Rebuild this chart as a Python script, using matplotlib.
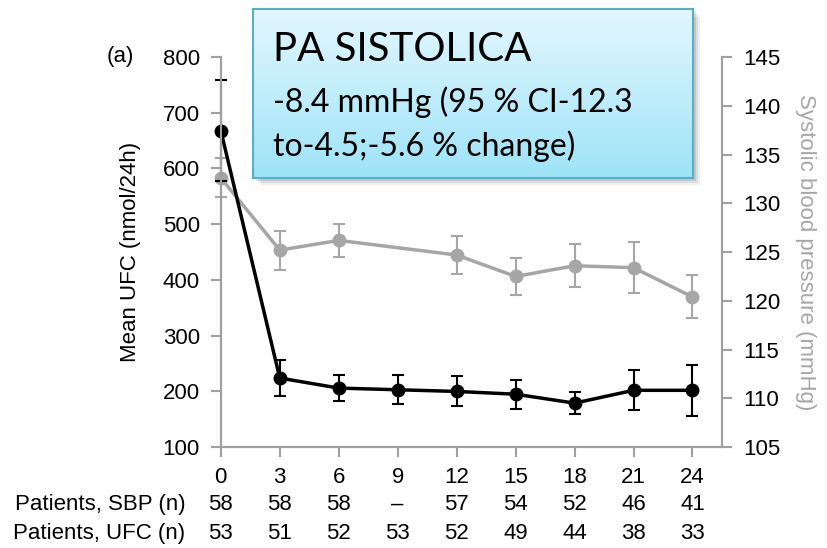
import numpy as np
import matplotlib.pyplot as plt
from matplotlib.patches import Rectangle

plt.rcParams['font.family'] = ['Liberation Sans', 'DejaVu Sans']

# follow-up months
months = [0, 3, 6, 9, 12, 15, 18, 21, 24]

# mean UFC (nmol/24h) and error
ufc = [668, 224, 206, 203, 200, 195, 179, 202, 202]
ufc_err = [90, 33, 24, 26, 27, 26, 20, 36, 46]

# systolic blood pressure (mmHg), no reading at month 9
sbp = [132.6, 125.2, 126.2, None, 124.7, 122.5, 123.6, 123.4, 120.4]
sbp_err = [2.0, 2.0, 1.7, None, 1.9, 1.9, 2.2, 2.6, 2.2]

n_sbp = ['58', '58', '58', '–', '57', '54', '52', '46', '41']
n_ufc = ['53', '51', '52', '53', '52', '49', '44', '38', '33']

grey = '#a6a6a6'
axis_grey = '#a0a0a0'
fs = 16

fig = plt.figure(figsize=(8.27, 5.48), dpi=100)
ax = fig.add_axes([0.267, 0.184, 0.606, 0.712])
ax2 = ax.twinx()

# SBP on the right axis (drawn underneath)
sx = [m for m, v in zip(months, sbp) if v is not None]
sy = [v for v in sbp if v is not None]
se = [e for e in sbp_err if e is not None]
eb = ax2.errorbar(sx, sy, yerr=se, color=grey, ecolor=grey, lw=2.5, elinewidth=1.5,
                  capsize=4.5, capthick=1.5, marker='o', ms=9, zorder=2)
ax2.set_ylim(105, 145)
ax2.set_yticks(np.arange(105, 146, 5))
ax2.set_ylabel('Systolic blood pressure (mmHg)', color=grey, fontsize=fs,
               rotation=270, labelpad=26)

# UFC on the left axis, drawn on top
ax.set_zorder(ax2.get_zorder() + 1)
ax.patch.set_visible(False)
eb2 = ax.errorbar(months, ufc, yerr=ufc_err, color='black', ecolor='black', lw=2.5,
                  elinewidth=1.5, capsize=4.5, capthick=1.5, marker='o', ms=9)
for container in (eb, eb2):
    for art in container.lines[:1] + tuple(container.lines[1]) + tuple(container.lines[2]):
        art.set_clip_on(False)
ax.set_ylim(100, 800)
ax.set_yticks(np.arange(100, 801, 100))
ax.set_xlim(0, 25.5)
ax.set_xticks(months)
ax.set_ylabel('Mean UFC (nmol/24h)', fontsize=fs, labelpad=16)

for a in (ax, ax2):
    a.spines['top'].set_visible(False)
    for side in ('left', 'right', 'bottom'):
        a.spines[side].set_color(axis_grey)
        a.spines[side].set_linewidth(1.5)
    a.tick_params(colors=axis_grey, labelcolor='black', labelsize=fs,
                  width=1.5, length=7)
ax.tick_params(axis='x', pad=7)
ax.tick_params(axis='y', pad=8)
ax2.tick_params(axis='y', pad=8)

# patient counts under the x axis
for m, s, u in zip(months, n_sbp, n_ufc):
    ax.text(m, -0.146, s, transform=ax.get_xaxis_transform(), ha='center',
            va='center', fontsize=fs)
    ax.text(m, -0.221, u, transform=ax.get_xaxis_transform(), ha='center',
            va='center', fontsize=fs)
fig.text(0.224, 0.080, 'Patients, SBP (n)', ha='right', va='center', fontsize=fs)
fig.text(0.224, 0.027, 'Patients, UFC (n)', ha='right', va='center', fontsize=fs)
fig.text(0.146, 0.896, '(a)', ha='center', va='center', fontsize=fs)

# highlighted result box
bx, by, bw, bh = 0.306, 0.675, 0.532, 0.308
for i, al in enumerate([0.10, 0.08, 0.06]):
    d = 0.003 * (i + 1)
    fig.patches.append(Rectangle((bx + d, by - d * 1.5), bw, bh, transform=fig.transFigure,
                                 color='black', alpha=al, lw=0, zorder=8))
bax = fig.add_axes([bx, by, bw, bh], zorder=10)
grad = np.linspace(0, 1, 256).reshape(-1, 1)
top = np.array([0.89, 0.97, 0.995])
bot = np.array([0.62, 0.89, 0.97])
img = top + (bot - top) * grad[:, :, None]
bax.imshow(img, aspect='auto', extent=[0, 1, 0, 1])
bax.set_xticks([])
bax.set_yticks([])
for sp in bax.spines.values():
    sp.set_color('#5aaec6')
    sp.set_linewidth(1.5)
box_font = ['Lato', 'DejaVu Sans']
bax.text(0.045, 0.76, 'PA SISTOLICA', fontsize=29, family=box_font, va='center')
bax.text(0.045, 0.45, '-8.4 mmHg (95 % CI-12.3', fontsize=23, family=box_font, va='center')
bax.text(0.045, 0.19, 'to-4.5;-5.6 % change)', fontsize=23, family=box_font, va='center')

fig.savefig('out.png', dpi=100)
